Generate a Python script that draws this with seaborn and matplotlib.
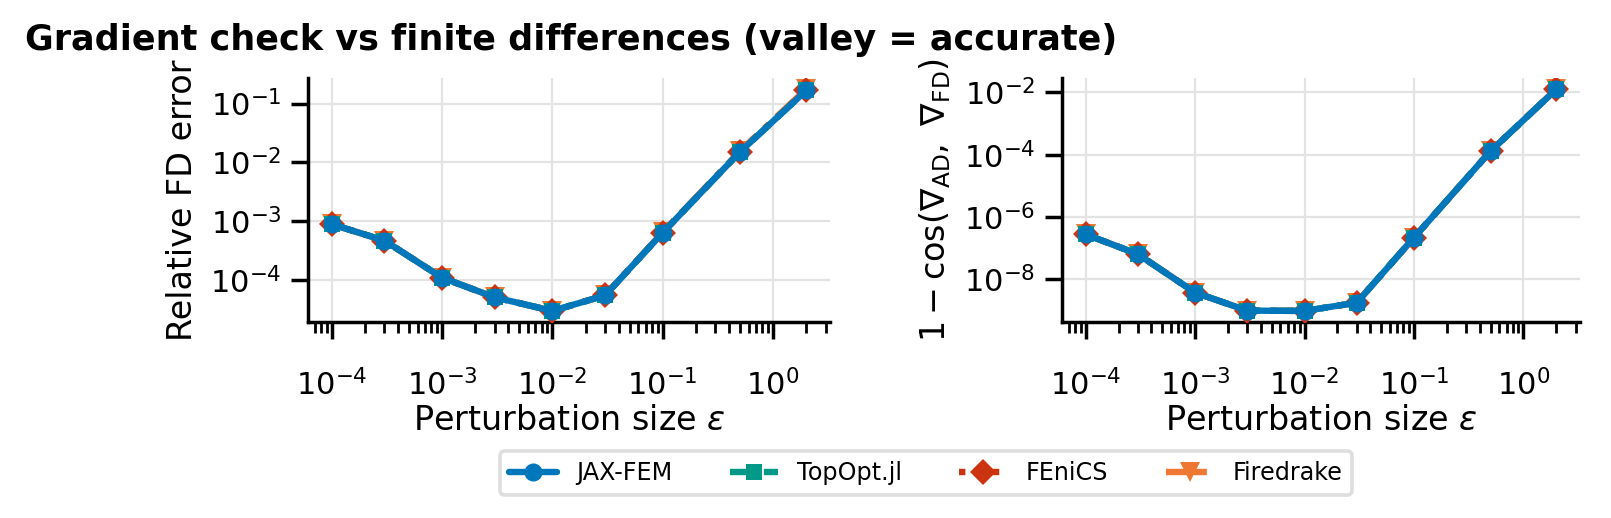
import matplotlib
matplotlib.use("Agg")
import matplotlib.pyplot as plt
import seaborn as sns
import pandas as pd
from matplotlib.ticker import NullLocator, FixedLocator, LogFormatterSciNotation

# ---- data ----
eps = [1e-4, 3e-4, 1e-3, 3e-3, 1e-2, 3e-2, 1e-1, 0.5, 2.0]
solvers = ["JAX-FEM", "TopOpt.jl", "FEniCS", "Firedrake"]

rel_jax = [8.9e-4, 4.7e-4, 1.1e-4, 5.1e-5, 3.0e-5, 5.5e-5, 6.4e-4, 1.5e-2, 0.167]
rel_topopt = [8.9e-4, 4.7e-4, 1.1e-4, 5.1e-5, 3.0e-5, 5.5e-5, 6.4e-4, 1.5e-2, 0.167]
rel_fenics = [8.9e-4, 4.7e-4, 1.1e-4, 5.1e-5, 3.0e-5, 5.5e-5, 6.4e-4, 1.5e-2, 0.170]
rel_firedrake = [8.9e-4, 4.7e-4, 1.1e-4, 5.1e-5, 3.0e-5, 5.5e-5, 6.5e-4, 1.55e-2, 0.176]

cos_jax = [2.8e-7, 6.5e-8, 3.8e-9, 1.0e-9, 9.8e-10, 1.8e-9, 2.2e-7, 1.3e-4, 1.27e-2]
cos_topopt = [2.8e-7, 6.5e-8, 3.8e-9, 1.0e-9, 9.8e-10, 1.8e-9, 2.2e-7, 1.3e-4, 1.27e-2]
cos_fenics = [2.8e-7, 6.5e-8, 3.8e-9, 1.0e-9, 9.8e-10, 1.8e-9, 2.2e-7, 1.3e-4, 1.27e-2]
cos_firedrake = [2.8e-7, 6.5e-8, 3.8e-9, 1.0e-9, 9.8e-10, 1.8e-9, 2.2e-7, 1.3e-4, 1.27e-2]

rel_err = {"JAX-FEM": rel_jax, "TopOpt.jl": rel_topopt, "FEniCS": rel_fenics, "Firedrake": rel_firedrake}
cos_err = {"JAX-FEM": cos_jax, "TopOpt.jl": cos_topopt, "FEniCS": cos_fenics, "Firedrake": cos_firedrake}

# y tick values shown in the reference
yticks_rel = [1e-4, 1e-3, 1e-2, 1e-1]
yticks_cos = [1e-8, 1e-6, 1e-4, 1e-2]

# ---- styles ----
colors = {"JAX-FEM": "#0077BB", "TopOpt.jl": "#009988", "FEniCS": "#CC3311", "Firedrake": "#EE7733"}
markers = {"JAX-FEM": "o", "TopOpt.jl": "s", "FEniCS": "D", "Firedrake": "v"}
msizes = {"JAX-FEM": 6.5, "TopOpt.jl": 6.0, "FEniCS": 6.5, "Firedrake": 7.0}
lstyles = {"JAX-FEM": "-", "TopOpt.jl": "--", "FEniCS": ":", "Firedrake": "-."}
zorders = {"JAX-FEM": 6, "TopOpt.jl": 5, "FEniCS": 4, "Firedrake": 3}

sns.set_theme(style="whitegrid", context="notebook")
plt.rcParams["font.family"] = ["DejaVu Sans"]
plt.rcParams["mathtext.fontset"] = "dejavusans"
plt.rcParams["text.color"] = "black"
plt.rcParams["axes.labelcolor"] = "black"

W, H, DPI = 1611, 518, 200
fig = plt.figure(figsize=(W / DPI, H / DPI), dpi=DPI)
ax1 = fig.add_axes([308 / W, 1 - 322 / H, (830 - 308) / W, (322 - 78) / H])
ax2 = fig.add_axes([1062 / W, 1 - 322 / H, (1580 - 1062) / W, (322 - 78) / H])

def draw(ax, values, yticks):
    for s in solvers:
        df = pd.DataFrame({"eps": eps, "val": values[s]})
        sns.lineplot(data=df, x="eps", y="val", ax=ax, color=colors[s],
                     marker=markers[s], markersize=msizes[s], linestyle=lstyles[s],
                     linewidth=2.3, markeredgewidth=0, label=s, legend=False,
                     zorder=zorders[s])
    ax.set_xscale("log")
    ax.set_yscale("log")
    ax.yaxis.set_major_locator(FixedLocator(yticks))
    ax.yaxis.set_major_formatter(LogFormatterSciNotation())
    ax.yaxis.set_minor_locator(NullLocator())
    ax.grid(True, which="major", color="#e3e3e3", linewidth=0.8)
    ax.grid(False, which="minor")
    for side in ["top", "right"]:
        ax.spines[side].set_visible(False)
    for side in ["left", "bottom"]:
        ax.spines[side].set_color("black")
        ax.spines[side].set_linewidth(1.25)
    ax.tick_params(axis="x", which="major", direction="out", length=6, width=1.25, pad=11,
                   colors="black", labelsize=11, bottom=True)
    ax.tick_params(axis="x", which="minor", direction="out", length=4, width=1.0,
                   colors="black", bottom=True)
    ax.tick_params(axis="y", which="major", direction="out", length=6, width=1.25, pad=3.5,
                   colors="black", labelsize=11, left=True)
    ax.set_xlabel(r"Perturbation size $\epsilon$", fontsize=12, labelpad=1.0)

draw(ax1, rel_err, yticks_rel)
draw(ax2, cos_err, yticks_cos)
ax1.set_ylabel("Relative FD error", fontsize=12)
ax2.set_ylabel(r"$1 - \cos(\nabla_{\mathrm{AD}},\ \nabla_{\mathrm{FD}})$", fontsize=12)

fig.text(25 / W, 1 - 40 / H, "Gradient check vs finite differences (valley = accurate)",
         fontsize=12.6, fontweight="bold", ha="left", va="center", color="black")

handles, labels = ax1.get_legend_handles_labels()
leg = fig.legend(handles, labels, loc="center", bbox_to_anchor=(926 / W, 1 - 473 / H),
                 ncol=4, fontsize=8.6, frameon=True, fancybox=True,
                 columnspacing=2.4, handlelength=2.0, handletextpad=0.8)
leg.get_frame().set_edgecolor("#d6d6d6")
leg.get_frame().set_linewidth(1.3)

fig.savefig("out.png", dpi=DPI)
